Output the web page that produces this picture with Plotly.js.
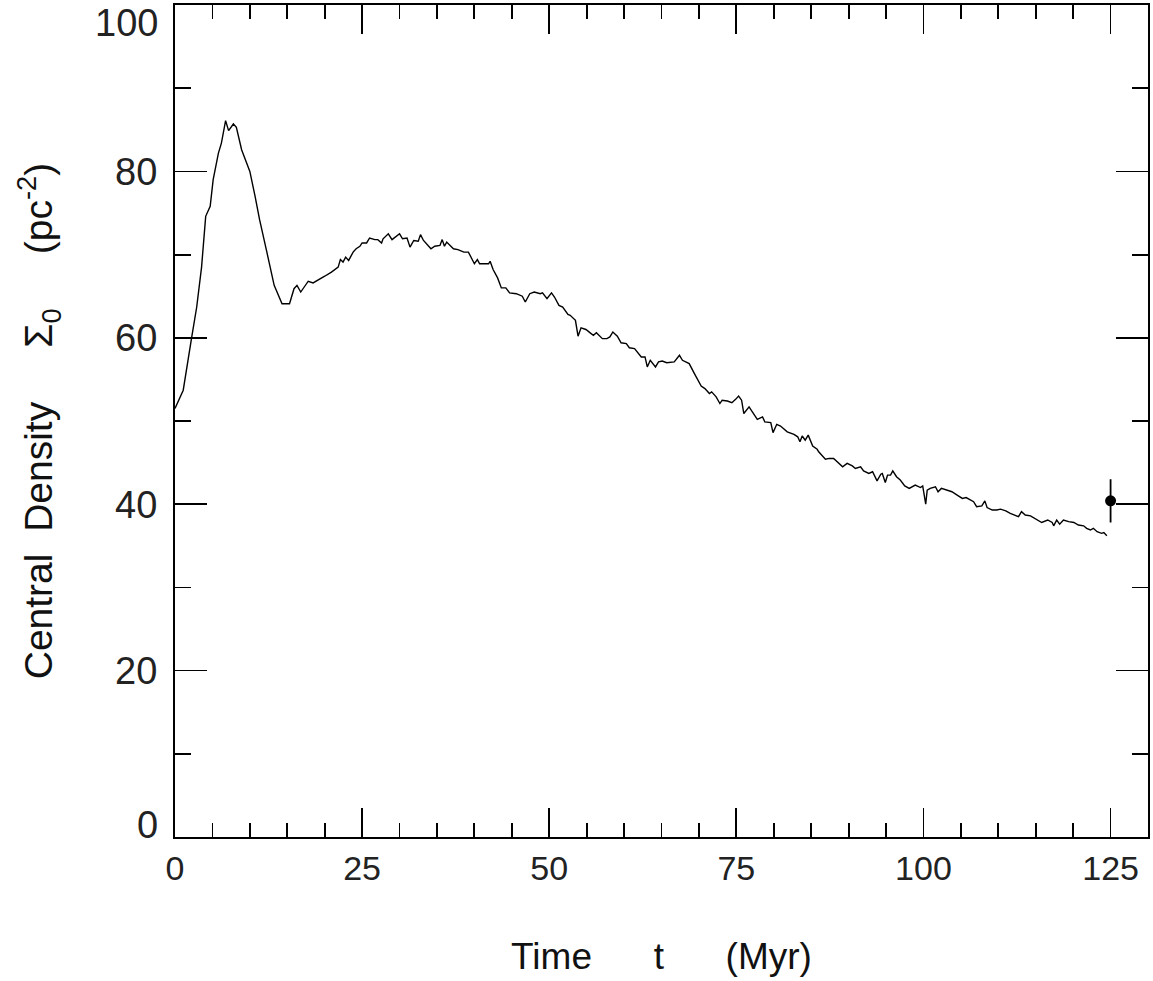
<!DOCTYPE html>
<html>
<head>
<meta charset="utf-8">
<script src="https://cdn.plot.ly/plotly-3.0.1.min.js"></script>
<style>html,body{margin:0;padding:0;background:#fff;}#chart{width:1153px;height:981px;}</style>
</head>
<body>
<div id="chart"></div>
<script>
const timeMyr = [0,1.1,2.2,2.9,3.55,4.1,4.7,5.1,5.8,6.2,6.76,7.16,7.8,8.2,8.9,10.0,10.7,11.3,12.2,13.25,14.3,15.3,15.9,16.3,16.8,17.8,18.45,19.1,20.0,20.9,21.8,22.1,22.45,22.8,23.2,23.8,24.2,24.7,25.0,25.6,26.0,26.7,27.1,27.6,27.8,28.5,29.0,30.0,30.4,31.0,31.4,31.9,32.5,32.8,33.2,34.2,34.7,35.4,35.7,36.0,36.3,37.2,37.8,38.6,39.2,40.0,40.4,40.7,41.4,41.9,42.1,42.5,43.1,43.6,44.2,44.7,45.6,46.4,46.8,47.4,48.0,48.8,49.1,49.7,50.3,50.7,51.3,51.8,52.5,52.8,53.5,53.85,54.25,54.9,55.6,55.9,56.3,57.1,57.7,58.1,58.5,59.1,59.6,60.3,60.7,61.4,62.3,62.8,63.1,63.5,64.2,64.6,65.1,65.7,66.7,67.4,67.8,68.7,69.4,70.3,70.8,71.4,71.7,72.3,72.8,73.1,73.8,74.4,74.9,75.3,75.7,76.0,76.7,77.4,77.8,78.5,78.8,79.6,79.9,80.4,80.9,81.8,82.7,83.2,83.5,83.8,84.2,84.6,85.2,85.8,86.0,86.9,87.4,88.0,88.5,89.2,89.8,90.5,90.9,91.6,92.0,92.7,93.2,93.8,94.3,94.5,94.9,95.2,95.6,95.9,96.4,96.9,97.5,98.1,98.9,99.6,99.9,100.3,100.5,100.9,101.6,101.95,102.4,103.2,103.8,104.5,105.2,105.7,106.3,106.7,107.1,107.8,108.2,108.5,109.2,109.8,110.3,111.0,111.6,112.3,112.7,113.1,113.6,114.3,115.2,115.8,116.6,117.2,117.4,117.8,118.2,118.7,119.4,120.1,120.7,121.4,121.8,122.3,122.7,123.2,123.8,124.1,124.5];
const centralDensity = [51.5,53.7,59.9,63.7,68.5,74.6,75.8,79.0,82.2,83.4,86.1,84.9,85.7,85.3,82.6,80.0,77.0,74.2,70.6,66.3,64.1,64.1,65.9,66.3,65.5,66.8,66.6,66.9,67.4,67.9,68.5,69.4,69.1,69.7,69.3,70.3,70.7,71.0,71.4,71.4,72.0,71.8,71.8,71.4,71.9,72.5,71.8,72.5,71.9,72.0,70.9,71.7,71.6,72.4,71.7,70.7,71.0,71.1,71.8,71.0,71.5,70.7,70.6,70.3,70.3,68.9,69.4,68.9,68.9,68.9,69.2,68.2,67.2,66.0,66.0,65.4,65.3,65.0,64.3,65.3,65.5,65.3,65.4,64.7,65.4,64.9,63.9,63.7,62.8,62.7,62.1,60.2,61.2,61.0,60.5,60.3,60.6,59.9,59.9,60.1,60.7,60.2,59.4,59.3,58.8,58.7,57.7,57.7,56.5,57.3,56.5,57.1,57.2,57.0,57.1,57.9,57.3,56.9,55.7,54.2,53.9,53.3,53.5,52.9,52.1,52.5,52.4,52.2,52.6,53.0,52.5,50.9,51.7,50.7,50.2,50.5,49.9,49.8,48.6,49.6,49.4,48.7,48.4,48.1,47.5,48.2,47.7,48.3,47.0,46.6,46.3,45.4,45.5,45.5,45.1,44.5,44.9,44.6,44.3,44.5,44.0,43.7,43.9,42.8,43.6,43.7,42.6,43.5,43.5,44.0,43.3,42.9,42.2,41.9,42.3,42.0,42.2,40.0,41.7,41.9,42.1,41.5,41.9,41.7,41.5,41.1,40.7,40.8,40.5,40.3,39.7,39.8,40.4,39.6,39.3,39.3,39.4,39.2,38.9,38.7,38.5,39.1,38.7,38.6,38.1,37.8,38.1,37.8,37.4,38.1,37.6,38.1,37.9,37.8,37.5,37.4,37.1,36.9,37.1,36.7,36.5,36.6,36.2];

const obsTime = [125];
const obsDensity = [40.4];
const obsError = [2.6];

const xTickVals = [0,25,50,75,100,125];
const yTickVals = [0,20,40,60,80,100];
const yInnerLabels = [20,40,60,80];
const yEdgeLabels = [0,100];

const fontMain = "'Liberation Sans', Arial, Helvetica, sans-serif";
const nb = '\u00A0';

const traces = [
  {
    x: timeMyr, y: centralDensity, type: 'scatter', mode: 'lines',
    line: {color: '#000', width: 1.4}, showlegend: false, hoverinfo: 'x+y'
  },
  {
    x: obsTime, y: obsDensity, type: 'scatter', mode: 'markers',
    marker: {color: '#000', size: 11},
    error_y: {type: 'data', array: obsError, visible: true, color: '#000', thickness: 1.8, width: 0},
    showlegend: false
  }
];

const tickFont = {family: fontMain, size: 38, color: '#222'};

const annotations = yEdgeLabels.map(v => ({
  xref: 'paper', yref: 'y', x: 0, y: v, text: String(v),
  showarrow: false, xanchor: 'right', yanchor: 'middle',
  xshift: -15, yshift: v === 0 ? 12 : -18, font: tickFont
}));

const layout = {
  width: 1153, height: 981,
  paper_bgcolor: '#fff', plot_bgcolor: '#fff',
  margin: {l: 175, r: 5, t: 5, b: 144, pad: 0},
  showlegend: false,
  annotations: annotations,
  xaxis: {
    range: [0, 130], tickvals: xTickVals, ticktext: xTickVals.map(String),
    ticks: 'inside', ticklen: 29, tickwidth: 1.8, tickcolor: '#000',
    minor: {dtick: 5, tick0: 0, ticks: 'inside', ticklen: 14, tickwidth: 1.8, tickcolor: '#000', showgrid: false},
    showline: true, linecolor: '#000', linewidth: 2, mirror: 'allticks',
    showgrid: false, zeroline: false,
    tickfont: {family: fontMain, size: 34, color: '#222'},
    ticklabelstandoff: 0,
    ticklabeloverflow: 'allow',
    title: {text: 'Time' + nb.repeat(6) + 't' + nb.repeat(6) + '(Myr)', font: {family: fontMain, size: 37, color: '#111'}, standoff: 57},
    automargin: false
  },
  yaxis: {
    range: [0, 100], tickvals: yTickVals, ticktext: yTickVals.map(v => yInnerLabels.includes(v) ? String(v) : ''),
    ticks: 'inside', ticklen: 32, tickwidth: 1.8, tickcolor: '#000',
    minor: {dtick: 10, tick0: 0, ticks: 'inside', ticklen: 16, tickwidth: 1.8, tickcolor: '#000', showgrid: false},
    showline: true, linecolor: '#000', linewidth: 2, mirror: 'allticks',
    showgrid: false, zeroline: false,
    tickfont: tickFont,
    ticklabelstandoff: 8,
    ticklabeloverflow: 'allow',
    title: {text: 'Central' + nb.repeat(2) + 'Density' + nb.repeat(5) + 'Σ<sub>0</sub>' + nb.repeat(5) + '(pc<sup>-2</sup>)', font: {family: fontMain, size: 39, color: '#111'}, standoff: 50},
    automargin: false
  }
};

Plotly.newPlot('chart', traces, layout, {displayModeBar: false, staticPlot: true});
</script>
</body>
</html>
